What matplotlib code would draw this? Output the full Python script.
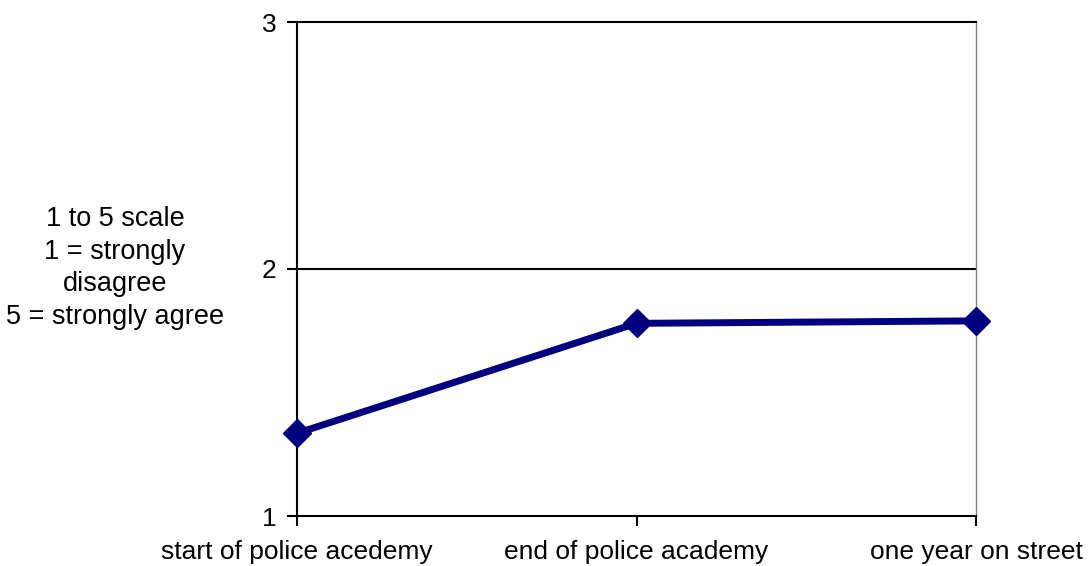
import matplotlib.pyplot as plt

plt.rcParams['font.family'] = ['Liberation Sans', 'DejaVu Sans']

stages = ['start of police acedemy', 'end of police academy', 'one year on street']
scores = [1.335, 1.78, 1.79]
yticks = [1, 2, 3]

fig = plt.figure(figsize=(10.88, 5.66), dpi=100)
ax = fig.add_axes([297 / 1088, 1 - 516 / 566, (976 - 297) / 1088, (516 - 22) / 566])

ax.plot(range(len(stages)), scores, color='#000080', lw=5,
        marker='D', ms=14, clip_on=False, zorder=3)

ax.set_xlim(0, len(stages) - 1)
ax.set_ylim(1, 3)
ax.set_yticks(yticks)
ax.set_xticks(range(len(stages)))
ax.set_xticklabels(stages, fontsize=19)
ax.tick_params(axis='y', labelsize=19, length=7, width=1.5, direction='out', pad=8)
ax.tick_params(axis='x', length=7, width=1.5, direction='out', pad=10)

ax.axhline(2, color='black', lw=1.5, zorder=1)
ax.spines['top'].set_linewidth(1.5)
ax.spines['left'].set_linewidth(1.5)
ax.spines['bottom'].set_linewidth(1.5)
ax.spines['right'].set_color('#808080')
ax.spines['right'].set_linewidth(1)

fig.text(115 / 1088, 1 - 268 / 566, '1 to 5 scale\n1 = strongly\ndisagree\n5 = strongly agree',
         ha='center', va='center', fontsize=19.5, linespacing=1.34)

fig.savefig('out.png', dpi=100)
